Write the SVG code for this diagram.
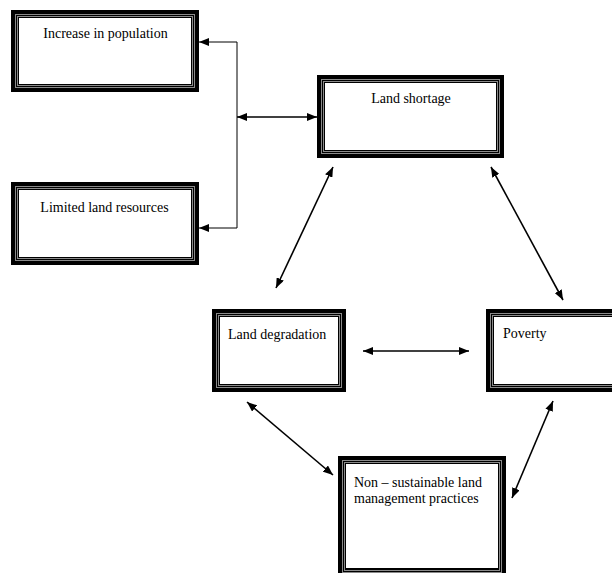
<svg xmlns="http://www.w3.org/2000/svg" width="612" height="573" viewBox="0 0 612 573">
<style>
.o{fill:#000}
.g{fill:none;stroke:#8a8a8a;stroke-width:1}
.w{fill:#fff}
.t{font-family:"Liberation Serif","Times New Roman",serif;font-size:14px;fill:#000}
.c{text-anchor:middle}
.ln{fill:none;stroke:#000;stroke-width:1}
.ar{fill:none;stroke:#000;stroke-width:1.6}
</style>
<defs>
<marker id="ah" markerUnits="userSpaceOnUse" markerWidth="10" markerHeight="8" refX="10" refY="4" orient="auto-start-reverse">
<path d="M0,0 L10,4 L0,8 z" fill="#000"/>
</marker>
</defs>
<rect width="612" height="573" fill="#fff"/>

<g id="n-population">
<rect class="o" x="11" y="10" width="188" height="82"/>
<rect class="g" x="15.5" y="14.5" width="179" height="73"/>
<rect class="g" x="17.5" y="16.5" width="175" height="69"/>
<rect class="w" x="19" y="18" width="172" height="66"/>
<text class="t c" x="105.5" y="38">Increase in population</text>
</g>

<g id="n-limited">
<rect class="o" x="11" y="182" width="188" height="83"/>
<rect class="g" x="15.5" y="186.5" width="179" height="74"/>
<rect class="g" x="17.5" y="188.5" width="175" height="70"/>
<rect class="w" x="19" y="190" width="172" height="67"/>
<text class="t c" x="104.5" y="212">Limited land resources</text>
</g>

<g id="n-shortage">
<rect class="o" x="317" y="75" width="187" height="83"/>
<rect class="g" x="321.5" y="79.5" width="178" height="74"/>
<rect class="g" x="323.5" y="81.5" width="174" height="70"/>
<rect class="w" x="325" y="83" width="171" height="67"/>
<text class="t c" x="411" y="103">Land shortage</text>
</g>

<g id="n-degradation">
<rect class="o" x="212" y="309" width="134" height="83"/>
<rect class="g" x="216.5" y="313.5" width="125" height="74"/>
<rect class="g" x="218.5" y="315.5" width="121" height="70"/>
<rect class="w" x="220" y="317" width="118" height="67"/>
<text class="t" x="228" y="339">Land degradation</text>
</g>

<g id="n-poverty">
<rect class="o" x="486" y="309" width="140" height="83"/>
<rect class="g" x="490.5" y="313.5" width="131" height="74"/>
<rect class="g" x="492.5" y="315.5" width="127" height="70"/>
<rect class="w" x="494" y="317" width="124" height="67"/>
<text class="t" x="503" y="338">Poverty</text>
</g>

<g id="n-practices">
<rect class="o" x="338" y="456" width="168" height="121"/>
<rect class="g" x="342.5" y="460.5" width="159" height="112"/>
<rect class="g" x="344.5" y="462.5" width="155" height="108"/>
<rect class="w" x="346" y="464" width="152" height="104"/>
<text class="t" x="354" y="487">Non – sustainable land</text>
<text class="t" x="354" y="503">management practices</text>
</g>

<g id="connectors">
<path class="ln" d="M237,42 V228"/>
<path class="ln" d="M237,42 H199" marker-end="url(#ah)"/>
<path class="ln" d="M237,228 H199" marker-end="url(#ah)"/>
<path class="ar" d="M237,117 H317" marker-start="url(#ah)" marker-end="url(#ah)"/>
<path class="ar" d="M333,167 L276,288" marker-start="url(#ah)" marker-end="url(#ah)"/>
<path class="ar" d="M491,167 L563,300" marker-start="url(#ah)" marker-end="url(#ah)"/>
<path class="ar" d="M363,351 H469" marker-start="url(#ah)" marker-end="url(#ah)"/>
<path class="ar" d="M247,402 L333,475" marker-start="url(#ah)" marker-end="url(#ah)"/>
<path class="ar" d="M553,401 L512,498" marker-start="url(#ah)" marker-end="url(#ah)"/>
</g>
</svg>
